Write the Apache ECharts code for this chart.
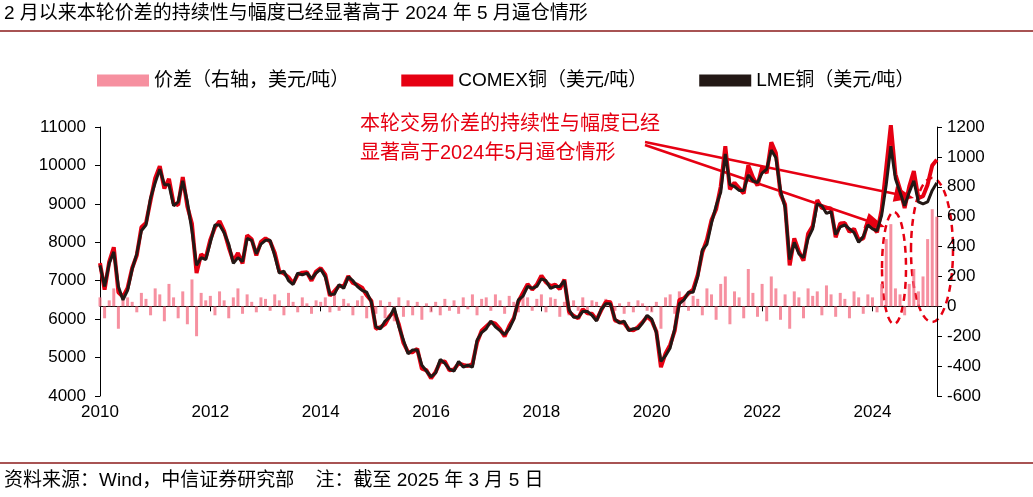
<!DOCTYPE html>
<html lang="zh">
<head>
<meta charset="UTF-8">
<title>铜价差</title>
<script src="https://cdn.jsdelivr.net/npm/echarts/dist/echarts.min.js"></script>
<style>
  html, body { margin: 0; padding: 0; background: #fff; }
  #chart { width: 1033px; height: 497px; }
</style>
</head>
<body>
<div id="chart"></div>
<script>
// 月度取样，2010-01 至 2025-03
const startYear = 2010;
const lme = [
  7400,6850,7450,7750,6850,6500,6750,7300,7700,8300,8450,9150,
  9550,9900,9500,9500,8950,9050,9600,9050,8300,7400,7600,7550,
  8000,8450,8450,8250,7950,7450,7600,7500,8100,8050,7700,7950,
  8050,8050,7650,7200,7250,7000,6900,7200,7150,7200,7050,7200,
  7300,7100,6650,6650,6900,6800,7100,7000,6850,6750,6700,6450,
  5800,5750,5950,6050,6300,5800,5450,5100,5200,5200,4800,4650,
  4500,4600,4950,4850,4700,4650,4900,4750,4800,4750,5450,5650,
  5750,5950,5800,5700,5600,5750,6000,6500,6600,6850,6800,6850,
  7050,7000,6800,6850,6850,7000,6250,6050,6050,6200,6200,6100,
  5950,6250,6400,6400,6000,5900,5950,5700,5750,5750,5900,6100,
  6000,5650,4900,5050,5250,5750,6400,6500,6700,6700,7100,7800,
  7950,8500,8950,9300,10300,9500,9450,9350,9350,9750,9600,9550,
  9800,9900,10400,10200,9350,8900,7550,8000,7700,7600,8100,8350,
  9000,8950,8750,8800,8200,8400,8450,8350,8250,8000,8150,8450,
  8350,8300,8700,9500,10500,9650,9300,8950,9300,9600,9050,9000,
  9050,9350,9550
];
const spread = [
  60,-80,40,120,-150,80,60,30,-40,90,50,-60,
  120,80,-100,150,60,-80,100,-120,180,-200,90,40,
  70,-60,100,40,-80,60,120,-50,80,30,-40,60,
  50,-30,80,40,-60,90,30,-40,60,20,-50,40,
  30,60,-40,80,-30,50,20,-60,40,70,-80,30,
  -50,40,-80,30,-100,60,-70,40,-60,30,-90,20,
  -40,30,-60,50,-30,40,-50,60,-20,80,-60,50,
  60,-30,80,40,-50,70,30,-40,90,60,-30,50,
  80,-40,60,50,-70,30,-60,40,-30,60,-50,40,
  30,-20,50,40,-30,20,-50,30,-40,40,20,-30,
  -40,30,-150,60,80,-50,100,40,-30,70,50,-60,
  120,80,-90,150,200,-120,100,60,-80,250,90,-70,
  150,-100,200,120,-90,80,-150,100,60,-80,120,70,
  100,-60,140,80,-70,90,50,-80,100,60,-50,80,
  60,-40,150,450,550,120,80,-60,150,250,100,200,
  450,650,600
];
const leftTicks = { min: 4000, max: 11000, interval: 1000 };
const rightTicks = { min: -600, max: 1200, interval: 200 };

const t = lme.map((v, i) => startYear + i / 12);
const lmeData = lme.map((v, i) => [t[i], v]);
const comexData = lme.map((v, i) => [t[i], v + spread[i]]);
const spreadData = spread.map((v, i) => [t[i], v]);

const chart = echarts.init(document.getElementById('chart'));
const font = 'Liberation Sans, Arial, Noto Sans CJK SC, sans-serif';
const red = '#e60012';
const plain = v => String(v);

// 箭头头部
function head(x0, y0, x1, y1, len, half) {
  const dx = x1 - x0, dy = y1 - y0, d = Math.hypot(dx, dy);
  const ux = dx / d, uy = dy / d;
  const bx = x1 - ux * len, by = y1 - uy * len;
  return [[x1, y1], [bx - uy * half, by + ux * half], [bx + uy * half, by - ux * half]];
}

chart.setOption({
  animation: false,
  textStyle: { fontFamily: font },
  grid: { left: 100, right: 96, top: 127, bottom: 101 },
  legend: {
    top: 66, left: 92, itemGap: 52, itemWidth: 52, itemHeight: 12,
    textStyle: { fontSize: 19, color: '#000', fontFamily: font },
    data: [
      { name: '价差（右轴，美元/吨）', icon: 'rect', itemStyle: { color: '#f36b80' } },
      { name: 'COMEX铜（美元/吨）', icon: 'rect', itemStyle: { color: red } },
      { name: 'LME铜（美元/吨）', icon: 'rect', itemStyle: { color: '#231815' } }
    ]
  },
  xAxis: {
    type: 'value', min: 2010, max: 2025.17, interval: 2,
    axisLine: { lineStyle: { color: '#000' } },
    axisTick: { inside: false, length: 5, lineStyle: { color: '#000' } },
    axisLabel: { fontSize: 17, color: '#000', showMaxLabel: false, margin: 8, formatter: plain },
    splitLine: { show: false }
  },
  yAxis: [
    {
      type: 'value', ...leftTicks,
      axisLine: { show: true, lineStyle: { color: '#000' } },
      axisTick: { show: true, length: 5, lineStyle: { color: '#000' } },
      axisLabel: { fontSize: 17, color: '#000', margin: 14, formatter: plain },
      splitLine: { show: false }
    },
    {
      type: 'value', ...rightTicks, position: 'right',
      axisLine: { show: true, lineStyle: { color: '#000' } },
      axisTick: { show: true, length: 5, lineStyle: { color: '#000' } },
      axisLabel: { fontSize: 17, color: '#000', margin: 10, formatter: plain },
      splitLine: { show: false }
    }
  ],
  series: [
    {
      name: '价差（右轴，美元/吨）', type: 'bar', yAxisIndex: 1,
      data: spreadData, barWidth: 3,
      itemStyle: { color: '#f36b80', opacity: 0.75 }
    },
    {
      name: 'COMEX铜（美元/吨）', type: 'line', data: comexData,
      symbol: 'none', lineStyle: { color: red, width: 4 }, itemStyle: { color: red }
    },
    {
      name: 'LME铜（美元/吨）', type: 'line', data: lmeData,
      symbol: 'none', lineStyle: { color: '#231815', width: 3 }, itemStyle: { color: '#231815' }
    }
  ],
  graphic: [
    { type: 'text', left: 4, top: 4, style: { text: '2 月以来本轮价差的持续性与幅度已经显著高于 2024 年 5 月逼仓情形', font: '19px ' + font, fill: '#000' } },
    { type: 'line', shape: { x1: 0, y1: 31, x2: 1033, y2: 31 }, style: { stroke: '#8b1a1a', lineWidth: 1.5 } },
    { type: 'line', shape: { x1: 0, y1: 463, x2: 1033, y2: 463 }, style: { stroke: '#8b1a1a', lineWidth: 1.5 } },
    { type: 'text', left: 4, top: 471, style: { text: '资料来源：Wind，中信证券研究部    注：截至 2025 年 3 月 5 日', font: '19px ' + font, fill: '#000' } },
    { type: 'text', left: 360, top: 110, style: { text: '本轮交易价差的持续性与幅度已经\n显著高于2024年5月逼仓情形', font: '20px ' + font, fill: red, lineHeight: 29 } },
    { type: 'line', shape: { x1: 645, y1: 145, x2: 868, y2: 221 }, style: { stroke: red, lineWidth: 2.5 } },
    { type: 'polygon', shape: { points: head(645, 145, 885, 227, 20, 8) }, style: { fill: red } },
    { type: 'line', shape: { x1: 645, y1: 142, x2: 896, y2: 194 }, style: { stroke: red, lineWidth: 2.5 } },
    { type: 'polygon', shape: { points: head(645, 142, 914, 198, 20, 8) }, style: { fill: red } },
    { type: 'ellipse', shape: { cx: 894, cy: 268, rx: 12, ry: 56 }, style: { fill: 'none', stroke: red, lineWidth: 2.5, lineDash: [7, 5] } },
    { type: 'ellipse', shape: { cx: 932, cy: 250, rx: 21, ry: 72 }, style: { fill: 'none', stroke: red, lineWidth: 2.5, lineDash: [7, 5] } }
  ]
});
</script>
</body>
</html>
